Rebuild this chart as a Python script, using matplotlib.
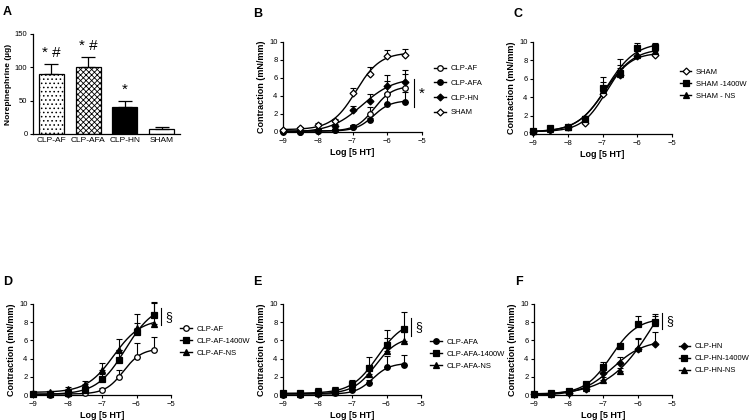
import numpy as np
import matplotlib
matplotlib.use("Agg")
import matplotlib.pyplot as plt

plt.rcParams["font.family"] = ["Liberation Sans", "DejaVu Sans"]
plt.rcParams["hatch.linewidth"] = 0.6

# panel A
ne_groups = ["CLP-AF", "CLP-AFA", "CLP-HN", "SHAM"]
ne_vals = [90, 100, 41, 8]
ne_err = [15, 15, 9, 2]
ne_marks = ["*#", "*#", "*", ""]

# concentration-response data (log [5 HT])
logc = [-9, -8.5, -8, -7.5, -7, -6.5, -6, -5.5]

sham = [0.2, 0.4, 0.8, 1.2, 4.3, 6.4, 8.5, 8.6]
sham_err = [0.1, 0.2, 0.2, 0.3, 0.6, 0.8, 0.6, 0.6]
sham_1400w = [0.3, 0.6, 0.8, 1.6, 5.0, 6.6, 9.3, 9.5]
sham_1400w_err = [0.1, 0.1, 0.1, 0.4, 1.2, 1.6, 0.6, 0.4]
sham_ns = [0.3, 0.5, 0.8, 1.7, 4.8, 6.5, 8.6, 9.0]
sham_ns_err = [0.1, 0.1, 0.1, 0.3, 0.8, 1.0, 0.5, 0.4]

clp_af = [0.1, 0.05, 0.1, 0.2, 0.6, 2.0, 4.2, 4.9]
clp_af_err = [0.05, 0.05, 0.05, 0.1, 0.2, 0.8, 1.5, 1.5]
clp_af_1400w = [0.1, 0.1, 0.2, 0.5, 1.8, 3.9, 6.9, 8.8]
clp_af_1400w_err = [0.05, 0.05, 0.1, 0.2, 0.5, 1.0, 1.0, 1.4]
clp_af_ns = [0.2, 0.3, 0.7, 1.2, 2.7, 4.9, 7.4, 7.8]
clp_af_ns_err = [0.1, 0.1, 0.2, 0.3, 0.8, 1.2, 1.5, 2.3]

clp_afa = [0.0, 0.0, 0.1, 0.2, 0.6, 1.3, 3.1, 3.3]
clp_afa_err = [0.05, 0.05, 0.05, 0.1, 0.2, 0.3, 1.2, 1.1]
clp_afa_1400w = [0.2, 0.2, 0.3, 0.4, 1.2, 3.0, 5.5, 7.3]
clp_afa_1400w_err = [0.1, 0.1, 0.5, 0.5, 0.5, 1.2, 1.6, 1.8]
clp_afa_ns = [0.1, 0.1, 0.2, 0.3, 0.9, 2.3, 4.8, 5.9]
clp_afa_ns_err = [0.1, 0.1, 0.6, 0.6, 0.4, 1.0, 1.5, 1.0]

clp_hn = [0.1, 0.1, 0.2, 0.7, 2.4, 3.5, 5.1, 5.6]
clp_hn_err = [0.05, 0.05, 0.1, 0.2, 0.5, 0.7, 1.2, 1.3]
clp_hn_1400w = [0.1, 0.2, 0.4, 1.2, 3.1, 5.4, 7.8, 8.0]
clp_hn_1400w_err = [0.05, 0.05, 0.1, 0.2, 0.5, 0.3, 0.9, 0.9]
clp_hn_ns = [0.1, 0.1, 0.3, 0.8, 1.7, 2.6, 5.2, 7.9]
clp_hn_ns_err = [0.05, 0.05, 0.1, 0.2, 0.3, 0.4, 1.0, 0.8]

# marker styles per group
styles = {
    "CLP-AF": ("o", "white"),
    "CLP-AFA": ("o", "black"),
    "CLP-HN": ("D", "black"),
    "SHAM": ("D", "white"),
    "1400W": ("s", "black"),
    "NS": ("^", "black"),
}


def hill_fit(x, y):
    # least squares sigmoid fit: grid over logEC50 and slope, bottom/top solved linearly
    x = np.asarray(x, float)
    y = np.asarray(y, float)
    best = None
    for ec in np.arange(-8.5, -4.0, 0.02):
        for h in np.arange(0.5, 3.0, 0.05):
            s = 1.0 / (1.0 + 10 ** ((ec - x) * h))
            A = np.vstack([np.ones_like(s), s]).T
            coef = np.linalg.lstsq(A, y, rcond=None)[0]
            r = np.sum((A @ coef - y) ** 2)
            if best is None or r < best[0]:
                best = (r, ec, h, coef)
    _, ec, h, coef = best
    xs = np.linspace(x.min(), x.max(), 200)
    return xs, coef[0] + coef[1] / (1.0 + 10 ** ((ec - xs) * h))


def style_axes(ax):
    for s in ["top", "right"]:
        ax.spines[s].set_visible(False)
    ax.spines["left"].set_linewidth(0.9)
    ax.spines["bottom"].set_linewidth(0.9)
    ax.tick_params(direction="out", length=2.5, width=0.8, labelsize=5.5, pad=1.5)


def curve_panel(ax, series, leg_anchor, spacing):
    for label, y, err, key in series:
        m, fc = styles[key]
        xs, ys = hill_fit(logc, y)
        ax.plot(xs, ys, color="black", lw=1.0, zorder=2)
        ax.errorbar(logc, y, yerr=[np.zeros(len(err)), err], fmt="none",
                    ecolor="black", elinewidth=0.8, capsize=2, capthick=0.8,
                    zorder=3, clip_on=False)
        ms = 4 if m != "D" else 3.5
        ax.plot(logc, y, ls="none", marker=m, ms=ms, mfc=fc, mec="black",
                mew=0.9, zorder=4, clip_on=False)
        ax.plot([], [], color="black", lw=1.0, marker=m, ms=ms, mfc=fc,
                mec="black", mew=0.9, label=label)
    ax.set_xlim(-9, -5)
    ax.set_ylim(0, 10)
    ax.set_xticks([-9, -8, -7, -6, -5])
    ax.set_yticks([0, 2, 4, 6, 8, 10])
    ax.set_xlabel("Log [5 HT]", fontsize=6.5, fontweight="bold", labelpad=2.5)
    ax.set_ylabel("Contraction (mN/mm)", fontsize=6.5, fontweight="bold", labelpad=2)
    style_axes(ax)
    ax.legend(loc="center left", bbox_to_anchor=leg_anchor, frameon=False,
              fontsize=5.5, handlelength=1.5, handletextpad=0.6,
              labelspacing=spacing, borderpad=0)


fig = plt.figure(figsize=(7.5, 4.2), dpi=100)
W, H = 750.0, 420.0


def add_ax(x0, x1, y0, y1):
    return fig.add_axes([x0 / W, 1 - y1 / H, (x1 - x0) / W, (y1 - y0) / H])


# A
axA = add_ax(33, 180, 34, 134)
xpos = np.arange(len(ne_groups))
hatches = ["....", "xxxxxx", None, None]
colors = ["white", "white", "black", "white"]
for i in range(len(ne_groups)):
    axA.bar(xpos[i], ne_vals[i], width=0.68, color=colors[i], edgecolor="black",
            hatch=hatches[i], linewidth=0.9, zorder=2)
    axA.errorbar(xpos[i], ne_vals[i], yerr=[[0], [ne_err[i]]], fmt="none",
                 ecolor="black", elinewidth=0.9, capsize=5, capthick=0.9, zorder=3)
    if ne_marks[i]:
        axA.text(xpos[i], ne_vals[i] + ne_err[i] + 6, " ".join(ne_marks[i]),
                 ha="center", va="bottom", fontsize=11)
axA.set_xlim(-0.5, 3.5)
axA.set_ylim(0, 150)
axA.set_yticks([0, 50, 100, 150])
axA.set_xticks(xpos)
axA.set_xticklabels(ne_groups, fontsize=6)
axA.set_ylabel("Norepinephrine (µg)", fontsize=6, fontweight="bold", labelpad=2)
style_axes(axA)
axA.tick_params(axis="x", length=0, pad=2, labelsize=6)

# B
axB = add_ax(283, 422, 42, 132)
curve_panel(axB, [
    ("CLP-AF", clp_af, clp_af_err, "CLP-AF"),
    ("CLP-AFA", clp_afa, clp_afa_err, "CLP-AFA"),
    ("CLP-HN", clp_hn, clp_hn_err, "CLP-HN"),
    ("SHAM", sham, sham_err, "SHAM"),
], (1.06, 0.46), 0.95)
axB.plot([-5.22, -5.22], [2.8, 5.9], color="black", lw=0.8, clip_on=False)
axB.text(-5.0, 4.3, "*", fontsize=11, ha="center", va="center")

# C
axC = add_ax(533, 672, 42, 134)
curve_panel(axC, [
    ("SHAM", sham, sham_err, "SHAM"),
    ("SHAM -1400W", sham_1400w, sham_1400w_err, "1400W"),
    ("SHAM - NS", sham_ns, sham_ns_err, "NS"),
], (1.03, 0.54), 0.6)

# D
axD = add_ax(33, 171, 304, 395)
curve_panel(axD, [
    ("CLP-AF", clp_af, clp_af_err, "CLP-AF"),
    ("CLP-AF-1400W", clp_af_1400w, clp_af_1400w_err, "1400W"),
    ("CLP-AF-NS", clp_af_ns, clp_af_ns_err, "NS"),
], (1.04, 0.59), 0.6)
axD.plot([-5.3, -5.3], [7.7, 9.6], color="black", lw=0.8, clip_on=False)
axD.text(-5.05, 8.6, "§", fontsize=9, ha="center", va="center")

# E
axE = add_ax(283, 421, 304, 395)
curve_panel(axE, [
    ("CLP-AFA", clp_afa, clp_afa_err, "CLP-AFA"),
    ("CLP-AFA-1400W", clp_afa_1400w, clp_afa_1400w_err, "1400W"),
    ("CLP-AFA-NS", clp_afa_ns, clp_afa_ns_err, "NS"),
], (1.04, 0.45), 0.6)
axE.plot([-5.3, -5.3], [6.5, 8.5], color="black", lw=0.8, clip_on=False)
axE.text(-5.05, 7.5, "§", fontsize=9, ha="center", va="center")

# F
axF = add_ax(534, 672, 304, 395)
curve_panel(axF, [
    ("CLP-HN", clp_hn, clp_hn_err, "CLP-HN"),
    ("CLP-HN-1400W", clp_hn_1400w, clp_hn_1400w_err, "1400W"),
    ("CLP-HN-NS", clp_hn_ns, clp_hn_ns_err, "NS"),
], (1.02, 0.40), 0.6)
axF.plot([-5.3, -5.3], [7.2, 9.0], color="black", lw=0.8, clip_on=False)
axF.text(-5.05, 8.1, "§", fontsize=9, ha="center", va="center")

for lab, x, y in [("A", 3, 12), ("B", 253, 14), ("C", 514, 14),
                  ("D", 3, 282), ("E", 253, 282), ("F", 515, 282)]:
    fig.text(x / W, 1 - y / H, lab, fontsize=9, fontweight="bold", va="center")

fig.savefig("out.png", dpi=100)
